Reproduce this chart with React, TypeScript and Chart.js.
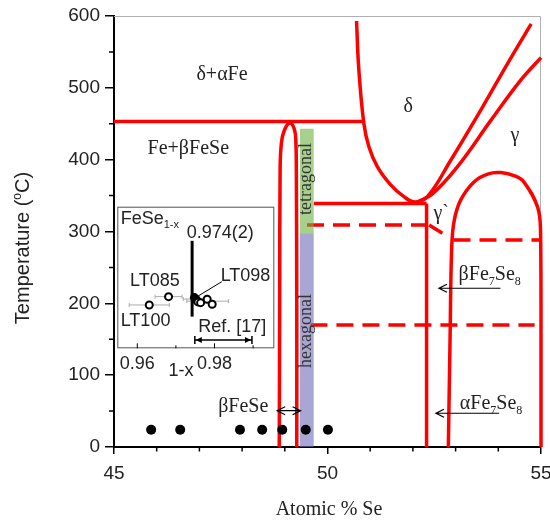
import React, { useEffect, useRef } from 'react';
import { Chart, registerables } from 'chart.js';

Chart.register(...registerables);

const SANS = '"Liberation Sans", Arimo, Arial, sans-serif';
const SERIF = '"Liberation Serif", "Times New Roman", serif';
const RED = '#ff0000';
const INK = '#222';

// ---- main diagram: [atomic % Se, temperature in °C]
const xTickValues = [45, 50, 55];
const xMinorTicks = [46, 47, 48, 49, 51, 52, 53, 54];
const yTickValues = [0, 100, 200, 300, 400, 500, 600];
const yMinorTicks = [50, 150, 250, 350, 450, 550];

const line453 = [[45, 453], [50.85, 453]];
const betaFeSeLoop = [
  [48.87, 0], [48.88, 200], [48.89, 385], [48.92, 423], [48.99, 441], [49.12, 451],
  [49.23, 441], [49.26, 423], [49.27, 385], [49.28, 200], [49.28, 0],
];
const line339 = [[49.68, 339], [52.32, 339]];
const gammaPrimeEdge = [[52.32, 339], [52.32, 0]];
const deltaBoundary = [
  [50.68, 593], [50.73, 529], [50.85, 451], [50.97, 418], [51.17, 390], [51.48, 365],
  [51.79, 348.5], [52.05, 341], [52.34, 348.5], [52.89, 399.5], [53.59, 469], [54.22, 534], [54.77, 589],
];
const gammaBoundary = [[52.1, 341], [52.45, 352], [53.04, 390], [53.83, 455], [54.53, 511], [55.0, 542]];
const fe7se8Dome = [
  [52.83, 0], [52.87, 150], [52.91, 280], [52.97, 316], [53.12, 344], [53.43, 369], [53.75, 380],
  [54.06, 382], [54.4, 377], [54.6, 369], [54.92, 334], [54.99, 298], [55.0, 200], [55.0, 0],
];
const dashed309 = [[49.52, 309], [52.38, 309]];
const tail309 = [[52.38, 309], [52.69, 297.5]];
const dashed288 = [[52.95, 288], [55, 288]];
const dashed170 = [[49.6, 170], [54.85, 170]];
const hexagonalBand = [[49.35, 297.5], [49.68, 297.5]];
const tetragonalBand = [[49.35, 443], [49.68, 443]];
const sampleComp = [45.87, 46.55, 47.95, 48.47, 48.94, 49.49, 50.01];
const sampleTemp = 24;

// ---- inset: FeSe1-x, [1-x, y]
const insetXTicks = [0.96, 0.98];
const insetOpen = [[0.9631, 197.7], [0.9681, 209.3], [0.9757, 202], [0.9764, 200.9], [0.9781, 205.6], [0.9794, 198.7]];
const insetFilled = [[0.9748, 208], [0.9753, 205]];
const insetErr = [[0.9631, 197.7, 0.0052], [0.9681, 209.3, 0.0035], [0.975, 206, 0.0031], [0.9782, 203, 0.0054]];
const avgComp = 0.9742;
const refRange = [0.9749, 0.9897];

const xy = (pts: number[][]) => pts.map(([x, y]) => ({ x, y }));

type Part = { t: string; sub?: boolean; sup?: boolean };

function drawRich(ctx: CanvasRenderingContext2D, parts: Part[], x: number, y: number, size: number, family: string, align: 'left' | 'center') {
  const small = Math.round(size * 0.62);
  const widths = parts.map(p => {
    ctx.font = `${p.sub || p.sup ? small : size}px ${family}`;
    return ctx.measureText(p.t).width;
  });
  const total = widths.reduce((a, b) => a + b, 0);
  let cx = align === 'center' ? x - total / 2 : x;
  ctx.textAlign = 'left';
  ctx.textBaseline = 'alphabetic';
  parts.forEach((p, i) => {
    ctx.font = `${p.sub || p.sup ? small : size}px ${family}`;
    const dy = p.sub ? size * 0.25 : p.sup ? -size * 0.42 : 0;
    ctx.fillText(p.t, cx, y + dy);
    cx += widths[i];
  });
}

function arrow(ctx: CanvasRenderingContext2D, x1: number, x2: number, y: number, both: boolean) {
  const head = (xh: number, dir: number) => {
    ctx.moveTo(xh - dir * 8, y - 4);
    ctx.lineTo(xh, y);
    ctx.lineTo(xh - dir * 8, y + 4);
  };
  const dir = Math.sign(x2 - x1);
  ctx.beginPath();
  ctx.moveTo(x1, y);
  ctx.lineTo(x2, y);
  head(x2, dir);
  if (both) head(x1, -dir);
  ctx.stroke();
}

const mainDecor = {
  id: 'mainDecor',
  beforeDatasetsDraw(chart: any) {
    const { ctx, chartArea: a } = chart;
    ctx.save();
    ctx.strokeStyle = '#b0b0b0';
    ctx.lineWidth = 1;
    ctx.beginPath();
    ctx.moveTo(a.left, a.top + 0.5);
    ctx.lineTo(a.right - 0.5, a.top + 0.5);
    ctx.lineTo(a.right - 0.5, a.bottom);
    ctx.stroke();
    ctx.restore();
  },
  afterDraw(chart: any) {
    const { ctx, chartArea: a, scales } = chart;
    const X = (v: number) => scales.x.getPixelForValue(v);
    const Y = (v: number) => scales.y.getPixelForValue(v);
    ctx.save();

    // minor ticks
    ctx.strokeStyle = '#000';
    ctx.lineWidth = 1.5;
    ctx.beginPath();
    xMinorTicks.forEach(v => { ctx.moveTo(X(v), a.bottom); ctx.lineTo(X(v), a.bottom + 4.5); });
    yMinorTicks.forEach(v => { ctx.moveTo(a.left, Y(v)); ctx.lineTo(a.left - 5, Y(v)); });
    ctx.stroke();

    // arrows
    ctx.lineWidth = 1.2;
    arrow(ctx, X(54.05), X(52.61), Y(221), false);
    arrow(ctx, X(54.02), X(52.54), Y(47), false);
    arrow(ctx, X(48.82), X(49.37), Y(50.5), true);

    // region labels
    ctx.fillStyle = INK;
    drawRich(ctx, [{ t: 'δ+αFe' }], X(47.53), Y(511), 20, SERIF, 'center');
    drawRich(ctx, [{ t: 'Fe+βFeSe' }], X(46.74), Y(407.5), 20, SERIF, 'center');
    drawRich(ctx, [{ t: 'δ' }], X(51.89), Y(466.8), 20, SERIF, 'center');
    drawRich(ctx, [{ t: 'γ' }], X(54.39), Y(426), 20, SERIF, 'center');
    drawRich(ctx, [{ t: 'γ`' }], X(52.48), Y(317.4), 20, SERIF, 'left');
    drawRich(ctx, [{ t: 'βFeSe' }], X(47.44), Y(49.2), 20, SERIF, 'left');
    drawRich(ctx, [{ t: 'βFe' }, { t: '7', sub: true }, { t: 'Se' }, { t: '8', sub: true }], X(53.07), Y(232.5), 20, SERIF, 'left');
    drawRich(ctx, [{ t: 'αFe' }, { t: '7', sub: true }, { t: 'Se' }, { t: '8', sub: true }], X(53.1), Y(52.5), 20, SERIF, 'left');

    // band labels
    ctx.fillStyle = '#333';
    ctx.font = `18px ${SERIF}`;
    ctx.textAlign = 'center';
    ctx.textBaseline = 'middle';
    [['tetragonal', 373], ['hexagonal', 161.5]].forEach(([t, v]) => {
      ctx.save();
      ctx.translate(X(49.51), Y(v as number));
      ctx.rotate(-Math.PI / 2);
      ctx.fillText(t as string, 0, 0);
      ctx.restore();
    });

    // axis titles
    ctx.fillStyle = INK;
    drawRich(ctx, [{ t: 'Atomic % Se' }], 329, 515, 20, SERIF, 'center');
    ctx.save();
    ctx.translate(29, 248);
    ctx.rotate(-Math.PI / 2);
    drawRich(ctx, [{ t: 'Temperature (' }, { t: 'o', sup: true }, { t: 'C)' }], 0, 0, 20, SANS, 'center');
    ctx.restore();

    ctx.restore();
  },
};

const insetDecor = {
  id: 'insetDecor',
  beforeDatasetsDraw(chart: any) {
    const { ctx, scales } = chart;
    const X = (v: number) => scales.x.getPixelForValue(v);
    const Y = (v: number) => scales.y.getPixelForValue(v);
    ctx.save();
    // error bars
    ctx.strokeStyle = '#aaa';
    ctx.lineWidth = 1;
    ctx.beginPath();
    insetErr.forEach(([x, y, e]) => {
      ctx.moveTo(X(x - e), Y(y)); ctx.lineTo(X(x + e), Y(y));
      ctx.moveTo(X(x - e), Y(y) - 2); ctx.lineTo(X(x - e), Y(y) + 2);
      ctx.moveTo(X(x + e), Y(y) - 2); ctx.lineTo(X(x + e), Y(y) + 2);
    });
    ctx.stroke();
    // average composition
    ctx.strokeStyle = '#000';
    ctx.lineWidth = 3;
    ctx.beginPath();
    ctx.moveTo(X(avgComp), Y(287));
    ctx.lineTo(X(avgComp), Y(181.5));
    ctx.stroke();
    // pointer to LT098
    ctx.lineWidth = 1;
    ctx.beginPath();
    ctx.moveTo(X(0.9819), Y(230.2));
    ctx.lineTo(X(0.9755), Y(209.3));
    ctx.stroke();
    // Ref. [17] range
    const [r0, r1] = refRange.map(X);
    const ry = Y(149);
    ctx.lineWidth = 1.5;
    ctx.beginPath();
    ctx.moveTo(r0, ry); ctx.lineTo(r1, ry);
    ctx.moveTo(r0, ry - 4); ctx.lineTo(r0, ry + 4);
    ctx.moveTo(r1, ry - 4); ctx.lineTo(r1, ry + 4);
    ctx.stroke();
    ctx.fillStyle = '#000';
    ctx.beginPath();
    ctx.moveTo(r0 + 1, ry); ctx.lineTo(r0 + 7, ry - 3); ctx.lineTo(r0 + 7, ry + 3); ctx.closePath();
    ctx.moveTo(r1 - 1, ry); ctx.lineTo(r1 - 7, ry - 3); ctx.lineTo(r1 - 7, ry + 3); ctx.closePath();
    ctx.fill();
    ctx.restore();
  },
  afterDraw(chart: any) {
    const { ctx, chartArea: a, scales } = chart;
    const X = (v: number) => scales.x.getPixelForValue(v);
    const Y = (v: number) => scales.y.getPixelForValue(v);
    ctx.save();
    ctx.strokeStyle = '#555';
    ctx.lineWidth = 1;
    ctx.strokeRect(a.left + 0.5, a.top + 0.5, a.right - a.left - 1, a.bottom - a.top - 1);
    ctx.strokeStyle = '#000';
    ctx.beginPath();
    [0.96, 0.97, 0.98, 0.99].forEach(v => {
      const len = insetXTicks.includes(v) ? 5 : 3;
      ctx.moveTo(X(v), a.bottom); ctx.lineTo(X(v), a.bottom - len);
    });
    ctx.stroke();

    ctx.fillStyle = INK;
    drawRich(ctx, [{ t: 'FeSe' }, { t: '1-x', sub: true }], X(0.9557), Y(310.5), 18, SANS, 'left');
    drawRich(ctx, [{ t: '0.974(2)' }], X(0.9728), Y(290.5), 18, SANS, 'left');
    drawRich(ctx, [{ t: 'LT085' }], X(0.9581), Y(224.6), 18, SANS, 'left');
    drawRich(ctx, [{ t: 'LT100' }], X(0.9557), Y(168.9), 18, SANS, 'left');
    drawRich(ctx, [{ t: 'LT098' }], X(0.9816), Y(231.5), 18, SANS, 'left');
    drawRich(ctx, [{ t: 'Ref. [17]' }], X(0.9758), Y(160.5), 18, SANS, 'left');
    drawRich(ctx, [{ t: '1-x' }], 73, 178, 18, SANS, 'center');
    ctx.restore();
  },
};

const redLine = (pts: number[][], tension = 0, dash: number[] = []) => ({
  data: xy(pts),
  showLine: true,
  borderColor: RED,
  borderWidth: 3.5,
  borderDash: dash,
  pointRadius: 0,
  tension,
  fill: false,
  clip: false as any,
  order: 10,
});

const App: React.FC = () => {
  const mainRef = useRef<HTMLCanvasElement | null>(null);
  const insetRef = useRef<HTMLCanvasElement | null>(null);

  useEffect(() => {
    if (!mainRef.current || !insetRef.current) return;
    const dash = [17, 9];

    const main = new Chart(mainRef.current, {
      type: 'scatter',
      data: {
        datasets: [
          redLine(line453),
          redLine(betaFeSeLoop, 0.4),
          redLine(line339),
          redLine(gammaPrimeEdge),
          redLine(deltaBoundary, 0.4),
          redLine(gammaBoundary, 0.4),
          redLine(fe7se8Dome, 0.4),
          redLine(dashed309, 0, dash),
          redLine(tail309),
          redLine(dashed288, 0, dash),
          redLine(dashed170, 0, dash),
          {
            data: xy(hexagonalBand),
            showLine: true,
            borderColor: 'transparent',
            pointRadius: 0,
            fill: 'origin',
            backgroundColor: 'rgba(110,107,180,0.6)',
            order: 5,
          },
          {
            data: xy(tetragonalBand),
            showLine: true,
            borderColor: 'transparent',
            pointRadius: 0,
            fill: '-1',
            backgroundColor: 'rgba(110,177,65,0.6)',
            order: 5,
          },
          {
            data: sampleComp.map(x => ({ x, y: sampleTemp })),
            pointRadius: 5,
            backgroundColor: '#000',
            borderWidth: 0,
            order: 0,
          },
        ] as any,
      },
      options: {
        animation: false,
        responsive: false,
        events: [],
        layout: { padding: { left: 0, right: 9, top: 16, bottom: 0 } },
        plugins: { legend: { display: false }, tooltip: { enabled: false } },
        scales: {
          x: {
            type: 'linear',
            min: 45,
            max: 55,
            afterBuildTicks: (s: any) => { s.ticks = xTickValues.map(value => ({ value })); },
            afterFit: (s: any) => { s.height = 75; s.paddingLeft = 0; s.paddingRight = 0; },
            grid: { drawOnChartArea: false, drawTicks: true, tickLength: 7, color: '#000', lineWidth: 1.5 },
            border: { color: '#000', width: 2 },
            ticks: { font: { family: SANS, size: 19 }, color: INK, padding: 8, maxRotation: 0, autoSkip: false, callback: (v: any) => String(v) },
          },
          y: {
            type: 'linear',
            min: 0,
            max: 600,
            afterBuildTicks: (s: any) => { s.ticks = yTickValues.map(value => ({ value })); },
            afterFit: (s: any) => { s.width = 114; s.paddingTop = 0; s.paddingBottom = 0; },
            grid: { drawOnChartArea: false, drawTicks: true, tickLength: 9, color: '#000', lineWidth: 1.5 },
            border: { color: '#000', width: 2 },
            ticks: { font: { family: SANS, size: 19 }, color: INK, padding: 5, autoSkip: false, callback: (v: any) => String(v) },
          },
        },
      },
      plugins: [mainDecor],
    });

    const inset = new Chart(insetRef.current, {
      type: 'scatter',
      data: {
        datasets: [
          {
            data: xy(insetOpen),
            pointRadius: 3.5,
            borderWidth: 2,
            borderColor: '#000',
            backgroundColor: '#fff',
          },
          {
            data: xy(insetFilled),
            pointRadius: 4.5,
            borderWidth: 0,
            backgroundColor: '#000',
          },
        ] as any,
      },
      options: {
        animation: false,
        responsive: false,
        events: [],
        layout: { padding: { left: 9.3, right: 13.7, top: 8.7, bottom: 0 } },
        plugins: { legend: { display: false }, tooltip: { enabled: false } },
        scales: {
          x: {
            type: 'linear',
            min: 0.95482,
            max: 0.99549,
            afterBuildTicks: (s: any) => { s.ticks = insetXTicks.map(value => ({ value })); },
            afterFit: (s: any) => { s.height = 34.7; s.paddingLeft = 0; s.paddingRight = 0; },
            grid: { display: false, drawTicks: false },
            border: { display: false },
            ticks: { font: { family: SANS, size: 18 }, color: INK, padding: 5, maxRotation: 0, autoSkip: false, callback: (v: any) => Number(v).toFixed(2) },
          },
          y: { type: 'linear', min: 137.4, max: 334.5, display: false },
        },
      },
      plugins: [insetDecor],
    });

    return () => {
      main.destroy();
      inset.destroy();
    };
  }, []);

  return (
    <div style={{ position: 'absolute', left: 0, top: 0, width: 550, height: 522, background: '#fff' }}>
      <canvas ref={mainRef} width={550} height={522} style={{ position: 'absolute', left: 0, top: 0 }} />
      <canvas ref={insetRef} width={180} height={185} style={{ position: 'absolute', left: 108, top: 198 }} />
    </div>
  );
};

export default App;
